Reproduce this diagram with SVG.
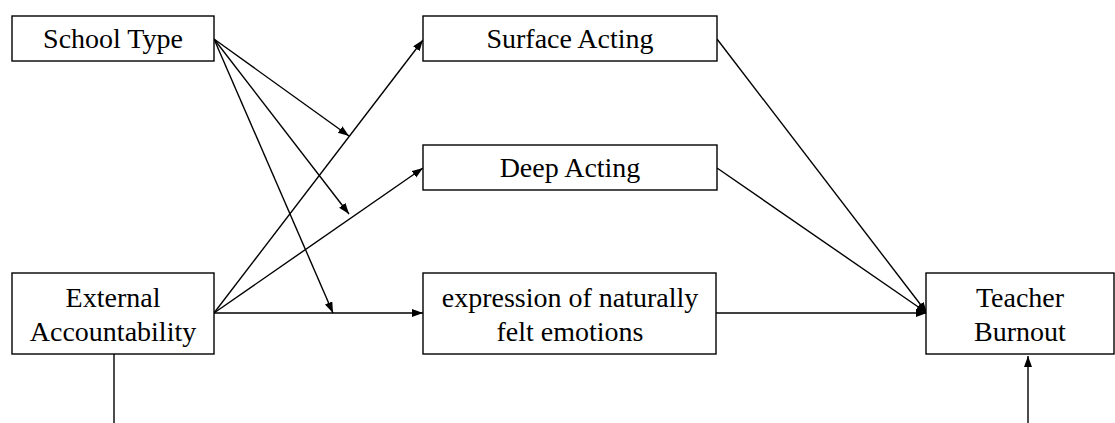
<svg xmlns="http://www.w3.org/2000/svg" width="1115" height="423" viewBox="0 0 1115 423">
<defs>
<marker id="ah" markerUnits="userSpaceOnUse" markerWidth="12" markerHeight="10" refX="11" refY="4" orient="auto">
<path d="M0,0 L11,4 L0,8 Z" fill="#000"/>
</marker>
</defs>
<style>
rect{fill:#fff;stroke:#000;stroke-width:1.4}
text{font-family:"Liberation Serif","Times New Roman",serif;font-size:28px;fill:#000;text-anchor:middle}
.c line{stroke:#000;stroke-width:1.4;fill:none}
.a{marker-end:url(#ah)}
</style>
<g class="c" id="connectors">
<line class="a" x1="214" y1="39" x2="349" y2="136"/>
<line class="a" x1="214" y1="39" x2="349" y2="214"/>
<line class="a" x1="214" y1="39" x2="333" y2="313"/>
<line class="a" x1="214" y1="313" x2="423" y2="40"/>
<line class="a" x1="214" y1="313" x2="423" y2="168"/>
<line class="a" x1="214" y1="313" x2="423" y2="313"/>
<line class="a" x1="717" y1="39" x2="927" y2="313"/>
<line class="a" x1="717" y1="168" x2="927" y2="313"/>
<line class="a" x1="716" y1="313" x2="927" y2="313"/>
<line x1="114" y1="354" x2="114" y2="423"/>
<line class="a" x1="1028" y1="423" x2="1028" y2="356"/>
</g>
<g id="school-type">
<rect x="12" y="16" width="202" height="45"/>
<text x="113" y="48">School Type</text>
</g>
<g id="surface-acting">
<rect x="423" y="16" width="294" height="45"/>
<text x="570" y="48">Surface Acting</text>
</g>
<g id="deep-acting">
<rect x="423" y="145" width="294" height="45"/>
<text x="570" y="177">Deep Acting</text>
</g>
<g id="external-accountability">
<rect x="12" y="273" width="202" height="81"/>
<text x="113" y="307">External</text>
<text x="113" y="341">Accountability</text>
</g>
<g id="expression">
<rect x="423" y="273" width="293" height="81"/>
<text x="570" y="307">expression of naturally</text>
<text x="570" y="341">felt emotions</text>
</g>
<g id="teacher-burnout">
<rect x="926" y="273" width="188" height="81"/>
<text x="1020" y="307">Teacher</text>
<text x="1020" y="341">Burnout</text>
</g>
</svg>
